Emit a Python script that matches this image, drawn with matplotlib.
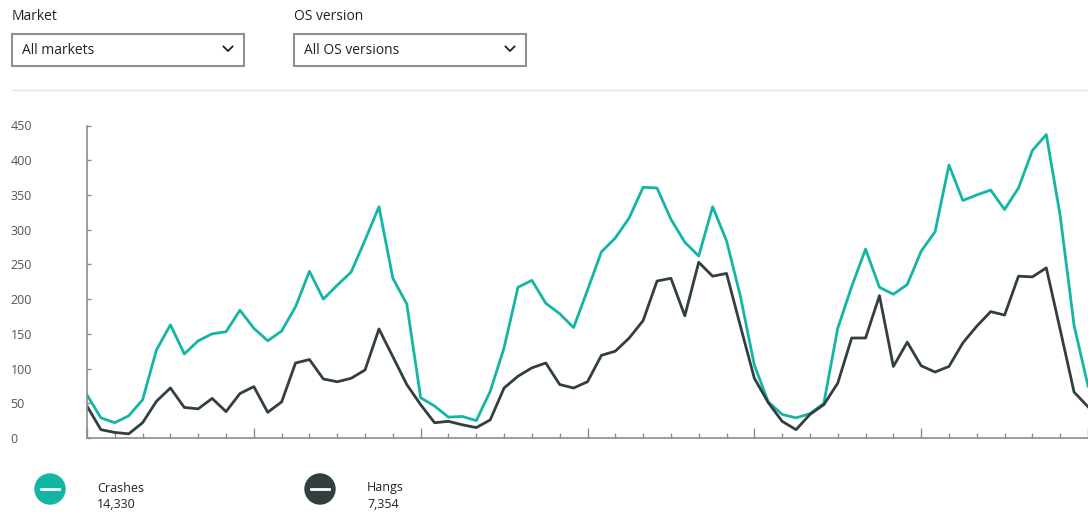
import numpy as np
import matplotlib.pyplot as plt
from matplotlib.patches import Rectangle, Circle
from matplotlib.ticker import MultipleLocator

plt.rcParams['font.family'] = ['Open Sans', 'DejaVu Sans']

# daily counts
crashes = [62, 29, 22, 32, 55, 127, 163, 121, 140, 150, 153, 184, 158, 140, 154,
           189, 240, 200, 220, 239, 285, 333, 230, 193, 58, 46, 30, 31, 25, 67,
           130, 217, 227, 194, 179, 159, 213, 268, 288, 317, 361, 360, 315, 282,
           262, 333, 284, 204, 105, 52, 34, 29, 35, 50, 158, 218, 272, 217, 207,
           221, 269, 297, 393, 342, 350, 357, 329, 360, 414, 437, 320, 162, 75]
hangs = [46, 12, 8, 6, 22, 53, 72, 44, 42, 57, 38, 64, 74, 37, 52,
         108, 113, 85, 81, 86, 98, 157, 117, 77, 48, 22, 24, 19, 15, 26,
         72, 89, 101, 108, 77, 72, 81, 119, 125, 144, 169, 226, 230, 176,
         253, 233, 237, 161, 86, 51, 24, 12, 34, 48, 79, 144, 144, 205, 103,
         138, 104, 95, 103, 137, 161, 182, 177, 233, 232, 245, 156, 66, 45]

series_names = ['Crashes', 'Hangs']
series_totals = ['14,330', '7,354']
y_ticks = [0, 50, 100, 150, 200, 250, 300, 350, 400, 450]
filters = ['Market', 'OS version']
filter_values = ['All markets', 'All OS versions']

teal = '#13b6a4'
dark = '#323e40'
grey = '#8c8c8c'
txt = '#222222'

fig = plt.figure(figsize=(10.88, 5.12), dpi=100)

# overlay in pixel coords for the dropdowns and the legend
ui = fig.add_axes([0, 0, 1, 1])
ui.set_xlim(0, 1088)
ui.set_ylim(512, 0)
ui.set_axis_off()

for k, (lab, val) in enumerate(zip(filters, filter_values)):
    x0 = 12 + 282 * k
    ui.text(x0, 17, lab, fontsize=10, color=txt, va='center')
    ui.add_patch(Rectangle((x0, 34), 232, 32, fill=False, ec='#8f8f8f', lw=1.5))
    ui.text(x0 + 10, 50, val, fontsize=10, color=txt, va='center')
    cx = x0 + 216
    ui.plot([cx - 4.5, cx, cx + 4.5], [46.5, 51, 46.5], color=txt, lw=1.3)
ui.plot([12, 1088], [90, 90], color='#e3e3e3', lw=1)

for k, (name, total, c) in enumerate(zip(series_names, series_totals, [teal, dark])):
    cx = 50 + 270 * k
    ui.add_patch(Circle((cx, 489), 15, color=c))
    ui.plot([cx - 9, cx + 9], [489, 489], color='white', lw=2)
    ui.text(cx + 47, 488, name, fontsize=9, color=txt, va='center')
    ui.text(cx + 47, 504, total, fontsize=9, color=txt, va='center')

# the chart itself
ax = fig.add_axes([87 / 1088, 74 / 512, 1001 / 1088, 312.5 / 512])
x = np.arange(len(crashes))
ax.plot(x, crashes, color=teal, lw=2)
ax.plot(x, hangs, color=dark, lw=2)
ax.set_xlim(0, 72)
ax.set_ylim(0, 450)
ax.set_yticks(y_ticks)

for s in ['top', 'right']:
    ax.spines[s].set_visible(False)
for s in ['left', 'bottom']:
    ax.spines[s].set_color(grey)
    ax.spines[s].set_linewidth(1.2)

ax.xaxis.set_major_locator(MultipleLocator(12))
ax.xaxis.set_minor_locator(MultipleLocator(2))
ax.tick_params(axis='x', which='major', direction='in', length=7, width=1, color=grey, labelbottom=False)
ax.tick_params(axis='x', which='minor', direction='in', length=3.5, width=1, color=grey)
ax.tick_params(axis='y', direction='in', length=3, width=1, color=grey,
               labelsize=9, labelcolor='#555555', pad=55)
for t in ax.get_yticklabels():
    t.set_horizontalalignment('left')

fig.savefig('out.png', dpi=100)
